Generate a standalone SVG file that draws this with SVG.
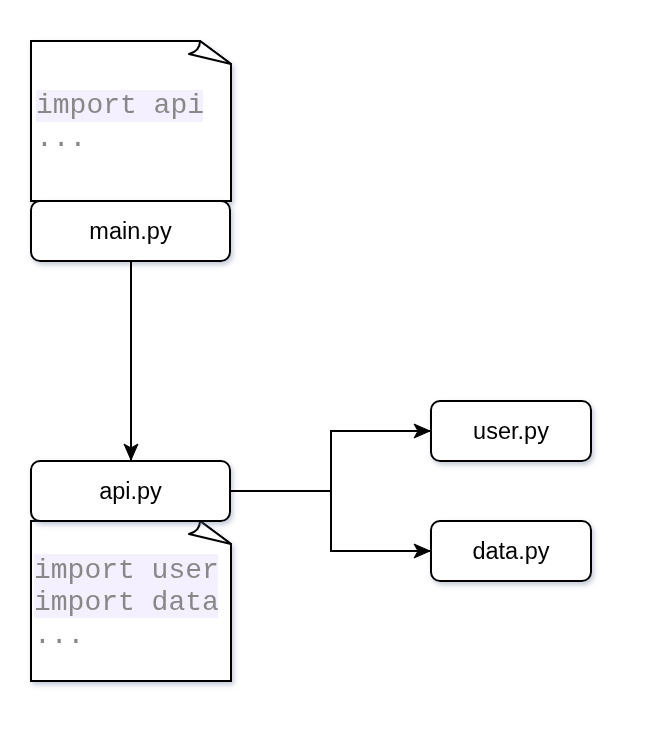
<svg xmlns="http://www.w3.org/2000/svg" width="654" height="744" viewBox="0 0 654 744">
<defs>
<filter id="sh" x="-10%" y="-10%" width="130%" height="130%">
<feDropShadow dx="2" dy="3" stdDeviation="2.5" flood-color="#5a6a90" flood-opacity="0.35"/>
</filter>
<marker id="arr" markerWidth="18" markerHeight="16" viewBox="0 0 18 16" refX="17" refY="8" orient="auto" markerUnits="userSpaceOnUse">
<path d="M1,1 L17,8 L1,15 L5,8 Z" fill="#000" stroke="#000" stroke-width="1"/>
</marker>
</defs>
<style>
.box{fill:#fff;stroke:#000;stroke-width:2;}
.lbl{font-family:"Liberation Sans",Arial,sans-serif;font-size:23.5px;fill:#000;text-anchor:middle;}
.code{font-family:"Liberation Mono","Courier New",monospace;font-size:28px;fill:#888;}
.hl{fill:#f5f0ff;}
.edge{fill:none;stroke:#000;stroke-width:2;}
.fold{fill:#fff;stroke:#000;stroke-width:2;stroke-linejoin:round;}
</style>
<g id="main-note" filter="url(#sh)">
<path class="box" d="M31,41 H200 L231,64 V201 H31 Z"/>
<path class="fold" d="M200,41 Q200,51 189,54 L231,64 Z"/>
<rect class="hl" x="36" y="90" width="167" height="32"/>
<text class="code" x="36" y="113">import api</text>
<text class="code" x="36" y="146">...</text>
</g>
<g id="main" filter="url(#sh)">
<rect class="box" x="31" y="201" width="199" height="60" rx="9"/>
<text class="lbl" x="130.5" y="239">main.py</text>
</g>
<g id="api-note" filter="url(#sh)">
<path class="box" d="M31,521 H200 L231,544 V681 H31 Z"/>
<path class="fold" d="M200,521 Q200,531 189,534 L231,544 Z"/>
<rect class="hl" x="34" y="554" width="184" height="64"/>
<text class="code" x="34" y="578">import user</text>
<text class="code" x="34" y="610">import data</text>
<text class="code" x="34" y="643">...</text>
</g>
<g id="api" filter="url(#sh)">
<rect class="box" x="31" y="461" width="199" height="60" rx="9"/>
<text class="lbl" x="130.5" y="499">api.py</text>
</g>
<g id="user" filter="url(#sh)">
<rect class="box" x="431" y="401" width="160" height="60" rx="9"/>
<text class="lbl" x="511" y="439">user.py</text>
</g>
<g id="data" filter="url(#sh)">
<rect class="box" x="431" y="521" width="160" height="60" rx="9"/>
<text class="lbl" x="511" y="559">data.py</text>
</g>
<g id="connectors">
<path class="edge" d="M131,261 V460" marker-end="url(#arr)"/>
<path class="edge" d="M230,491 H331 V431 H430" marker-end="url(#arr)"/>
<path class="edge" d="M331,491 V551 H430" marker-end="url(#arr)"/>
</g>
</svg>
